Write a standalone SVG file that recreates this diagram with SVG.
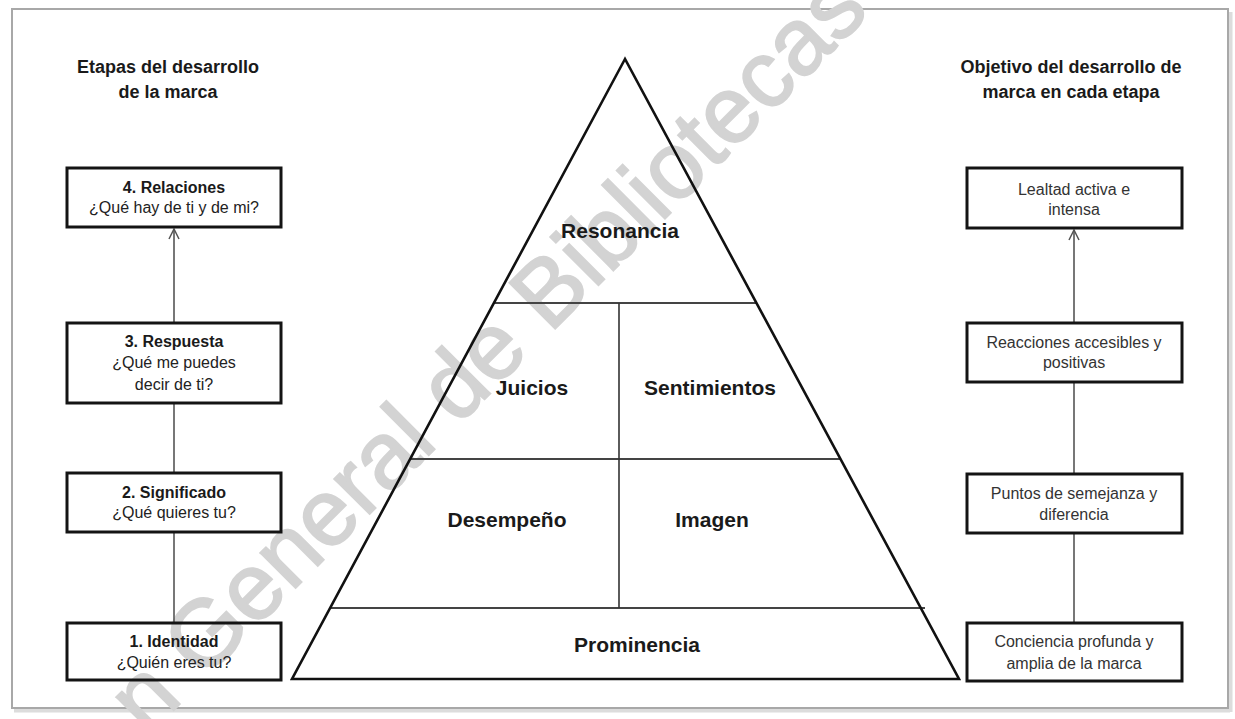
<svg xmlns="http://www.w3.org/2000/svg" width="1235" height="719" viewBox="0 0 1235 719">
<style>
.box{fill:none;stroke:#141414;stroke-width:3}
.conn{stroke:#555;stroke-width:1.6;fill:none}
.hdr{font-family:"Liberation Sans",Arial,sans-serif;font-weight:bold;font-size:18px;fill:#1a1a1a;text-anchor:middle}
.tb{font-family:"Liberation Sans",Arial,sans-serif;font-weight:bold;font-size:16px;fill:#1a1a1a;text-anchor:middle}
.tr{font-family:"Liberation Sans",Arial,sans-serif;font-size:16px;fill:#222;text-anchor:middle}
.tg{font-family:"Liberation Sans",Arial,sans-serif;font-size:16px;fill:#333;text-anchor:middle}
.pl{font-family:"Liberation Sans",Arial,sans-serif;font-weight:bold;font-size:21px;fill:#1a1a1a;text-anchor:middle}
.pin{stroke:#444;stroke-width:2;fill:none}
.wm{font-family:"Liberation Sans",Arial,sans-serif;font-size:94px;fill:#d3d3d3;stroke:#d3d3d3;stroke-width:2}
</style>
<defs>
<marker id="arr" viewBox="0 0 12 12" refX="11" refY="6" markerWidth="12" markerHeight="12" markerUnits="userSpaceOnUse" orient="auto">
<path d="M1,1 L11,6 L1,11" fill="none" stroke="#555" stroke-width="1.5"/>
</marker>
</defs>
<rect x="0" y="0" width="1235" height="719" fill="#fff"/>
<g id="frame">
<line x1="14" y1="710" x2="1230" y2="710" stroke="#dcdcdc" stroke-width="5"/>
<line x1="1230" y1="12" x2="1230" y2="712" stroke="#dcdcdc" stroke-width="5"/>
<rect x="12" y="9" width="1216" height="699" fill="none" stroke="#a8a8a8" stroke-width="2"/>
</g>
<g id="watermark">
<text class="wm" transform="translate(205,632) rotate(-45)" x="-115" y="33">n General de Bibliotecas</text>
</g>
<g id="header-left">
<text class="hdr" x="168" y="73">Etapas del desarrollo</text>
<text class="hdr" x="168" y="98">de la marca</text>
</g>
<g id="header-right">
<text class="hdr" x="1071" y="73">Objetivo del desarrollo de</text>
<text class="hdr" x="1071" y="98">marca en cada etapa</text>
</g>
<g id="connectors">
<line class="conn" x1="174" y1="323" x2="174" y2="229" marker-end="url(#arr)"/>
<line class="conn" x1="174" y1="403" x2="174" y2="473"/>
<line class="conn" x1="174" y1="532" x2="174" y2="623"/>
<line class="conn" x1="1074" y1="323" x2="1074" y2="230" marker-end="url(#arr)"/>
<line class="conn" x1="1074" y1="382" x2="1074" y2="474"/>
<line class="conn" x1="1074" y1="533" x2="1074" y2="623"/>
</g>
<g id="etapa-4">
<rect class="box" x="67" y="168" width="214" height="59"/>
<text class="tb" x="174" y="193">4. Relaciones</text>
<text class="tr" x="174" y="213">¿Qué hay de ti y de mi?</text>
</g>
<g id="etapa-3">
<rect class="box" x="67" y="323" width="214" height="80"/>
<text class="tb" x="174" y="347">3. Respuesta</text>
<text class="tr" x="174" y="368">¿Qué me puedes</text>
<text class="tr" x="174" y="390">decir de ti?</text>
</g>
<g id="etapa-2">
<rect class="box" x="67" y="473" width="214" height="59"/>
<text class="tb" x="174" y="498">2. Significado</text>
<text class="tr" x="174" y="518">¿Qué quieres tu?</text>
</g>
<g id="etapa-1">
<rect class="box" x="67" y="623" width="214" height="57"/>
<text class="tb" x="174" y="647">1. Identidad</text>
<text class="tr" x="174" y="668">¿Quién eres tu?</text>
</g>
<g id="objetivo-4">
<rect class="box" x="967" y="168" width="215" height="60"/>
<text class="tg" x="1074" y="195">Lealtad activa e</text>
<text class="tg" x="1074" y="215">intensa</text>
</g>
<g id="objetivo-3">
<rect class="box" x="967" y="323" width="215" height="59"/>
<text class="tg" x="1074" y="348">Reacciones accesibles y</text>
<text class="tg" x="1074" y="368">positivas</text>
</g>
<g id="objetivo-2">
<rect class="box" x="967" y="474" width="215" height="59"/>
<text class="tg" x="1074" y="499">Puntos de semejanza y</text>
<text class="tg" x="1074" y="520">diferencia</text>
</g>
<g id="objetivo-1">
<rect class="box" x="967" y="623" width="215" height="58"/>
<text class="tg" x="1074" y="647">Conciencia profunda y</text>
<text class="tg" x="1074" y="669">amplia de la marca</text>
</g>
<g id="pyramid">
<line class="pin" x1="494" y1="303" x2="756" y2="303"/>
<line class="pin" x1="410" y1="459" x2="840" y2="459"/>
<line class="pin" x1="330" y1="608" x2="925" y2="608"/>
<line x1="619" y1="303" x2="619" y2="608" stroke="#333" stroke-width="1.6"/>
<polygon points="625,59 292,679 959,679" fill="none" stroke="#111" stroke-width="2.6" stroke-linejoin="miter"/>
</g>
<g id="resonancia"><text class="pl" x="620" y="238">Resonancia</text></g>
<g id="juicios"><text class="pl" x="532" y="395">Juicios</text></g>
<g id="sentimientos"><text class="pl" x="710" y="395">Sentimientos</text></g>
<g id="desempeno"><text class="pl" x="507" y="527">Desempeño</text></g>
<g id="imagen"><text class="pl" x="712" y="527">Imagen</text></g>
<g id="prominencia"><text class="pl" x="637" y="652">Prominencia</text></g>
</svg>
